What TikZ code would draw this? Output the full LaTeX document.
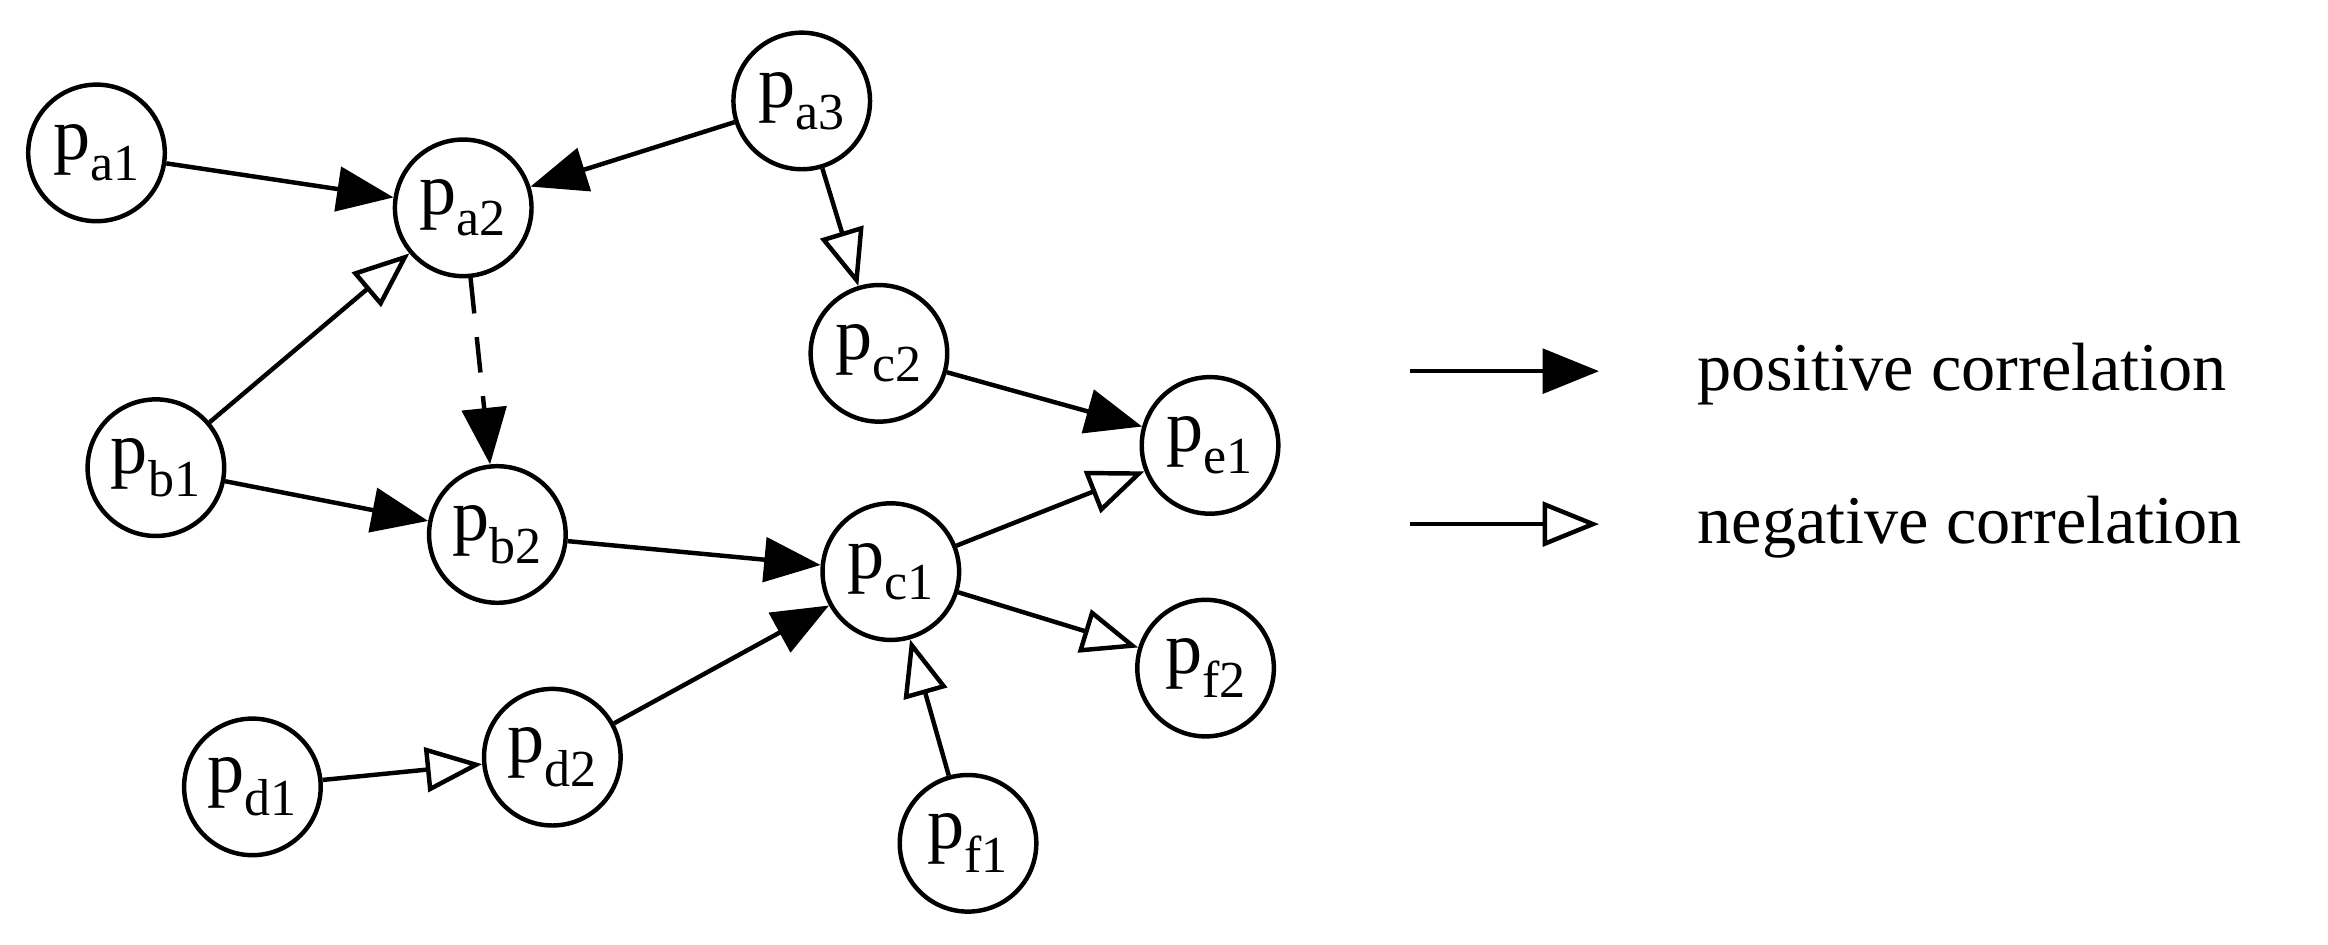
\documentclass[tikz,border=0pt]{standalone}
\usepackage{fontspec}
\setmainfont{Liberation Serif}
\usetikzlibrary{arrows.meta}
\begin{document}
\begin{tikzpicture}[x=1pt,y=-1pt,
  nd/.style={circle,draw,line width=3pt,minimum size=92pt,inner sep=0pt,font=\fontsize{50}{54}\selectfont},
  posarr/.style={line width=3pt,-{Triangle[length=38pt,width=30pt]}},
  negarr/.style={line width=3pt,-{Triangle[open,length=38pt,width=30pt,fill=white]}},
  lab/.style={font=\fontsize{46}{52}\selectfont,anchor=west}]
\useasboundingbox (0,0) rectangle (1568,636);
\node[nd] (pa1) at (65,103) {p\textsubscript{a1}};
\node[nd] (pa2) at (312,140) {p\textsubscript{a2}};
\node[nd] (pa3) at (540,68) {p\textsubscript{a3}};
\node[nd] (pc2) at (592,238) {p\textsubscript{c2}};
\node[nd] (pb1) at (105,315) {p\textsubscript{b1}};
\node[nd] (pb2) at (335,360) {p\textsubscript{b2}};
\node[nd] (pc1) at (600,385) {p\textsubscript{c1}};
\node[nd] (pe1) at (815,300) {p\textsubscript{e1}};
\node[nd] (pf2) at (812,450) {p\textsubscript{f2}};
\node[nd] (pd1) at (170,530) {p\textsubscript{d1}};
\node[nd] (pd2) at (372,510) {p\textsubscript{d2}};
\node[nd] (pf1) at (652,568) {p\textsubscript{f1}};
\draw[posarr] (pa1) -- (pa2);
\draw[posarr] (pa3) -- (pa2);
\draw[negarr] (pa3) -- (pc2);
\draw[negarr] (pb1) -- (pa2);
\draw[posarr,dash pattern=on 24pt off 16pt] (pa2) -- (pb2);
\draw[posarr] (pb1) -- (pb2);
\draw[posarr] (pc2) -- (pe1);
\draw[posarr] (pb2) -- (pc1);
\draw[negarr] (pc1) -- (pe1);
\draw[negarr] (pc1) -- (pf2);
\draw[negarr] (pf1) -- (pc1);
\draw[negarr] (pd1) -- (pd2);
\draw[posarr] (pd2) -- (pc1);
\coordinate (l1a) at (950,250); \coordinate (l1b) at (1077,250);
\coordinate (l2a) at (950,353); \coordinate (l2b) at (1077,353);
\draw[posarr] (l1a) -- (l1b);
\draw[negarr] (l2a) -- (l2b);
\node[lab] (t1) at (1140,252) {positive correlation};
\node[lab] (t2) at (1140,355) {negative correlation};
\end{tikzpicture}
\end{document}
